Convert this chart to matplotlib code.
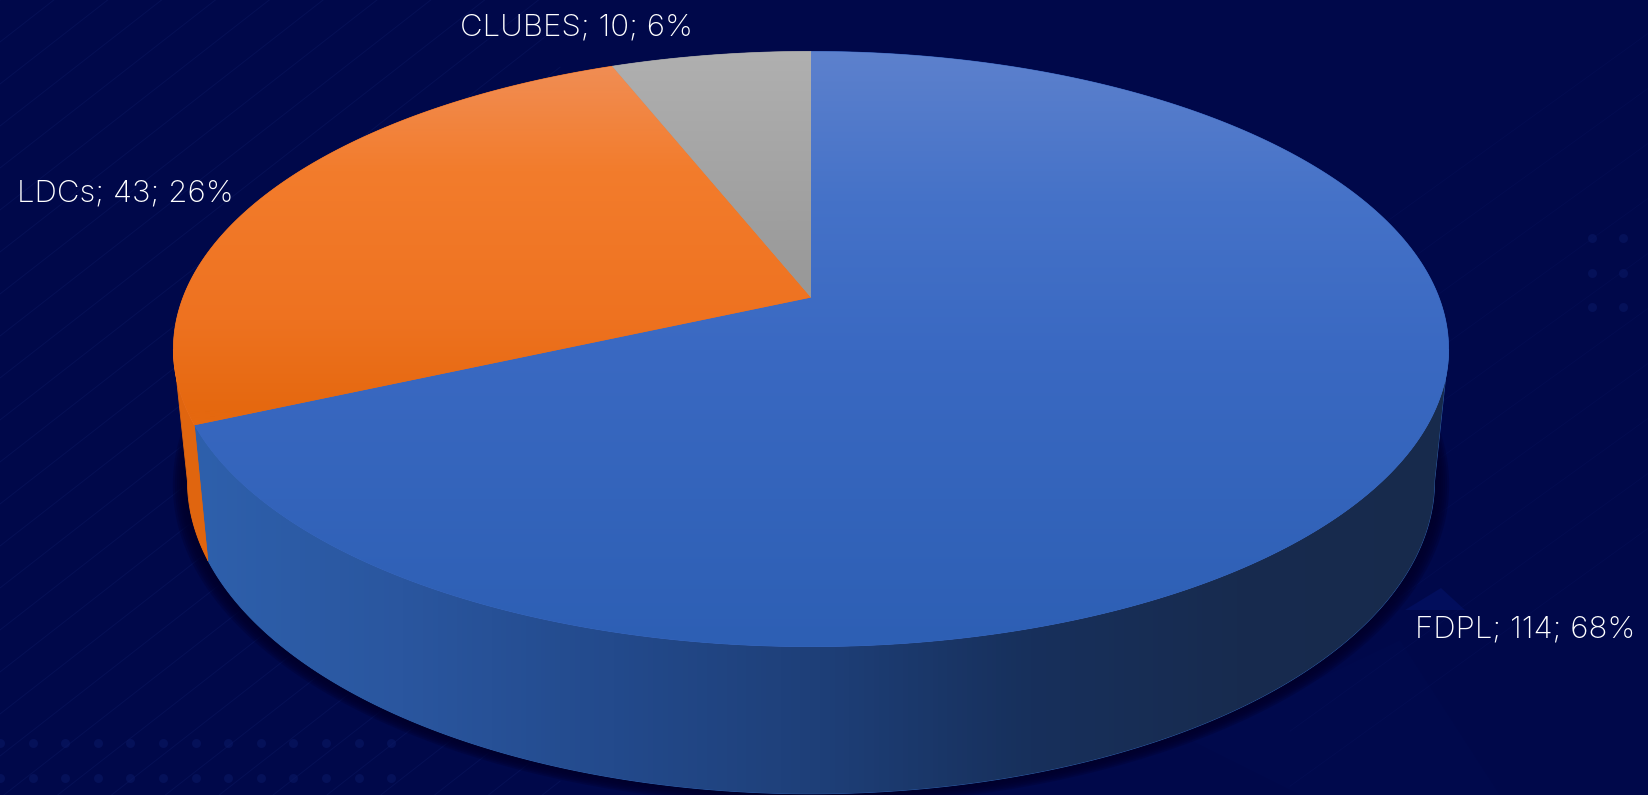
import numpy as np
import matplotlib
matplotlib.use("Agg")
import matplotlib.pyplot as plt
from matplotlib.colors import LinearSegmentedColormap
from matplotlib.patches import Polygon

# slices in the order they run clockwise from 12 o'clock
names = ["FDPL", "LDCs", "CLUBES"]
values = [114, 43, 10]

label_x = [1415, 17, 460]
label_y = [637, 201, 35]

BG = "#00084a"
W, H = 1649, 795

# perspective set up (pixels), measured on the picture
XC, YC = 811.0, 297.5
A, B, K = 628.0, 288.7, 0.173
SX, SY = 0.978, 1.052
Y_FRONT_TOP, Y_FRONT_BOT = 646.8, 794.0

# only this part of the wall faces the viewer
FRONT_T0, FRONT_T1 = np.radians(100), np.radians(260)

top_colors = {
    "FDPL": [(0, "#5d81cd"), (0.25, "#4572c8"), (0.5, "#3a69c2"), (1, "#2d5fb4")],
    "LDCs": [(0, "#f0905a"), (0.2, "#f37c2c"), (0.45, "#ee7220"), (0.6, "#e5680f"), (1, "#e5680f")],
    "CLUBES": [(0, "#b0b0b0"), (0.4, "#989898"), (1, "#989898")],
}
side_colors = {
    "FDPL": ["#2e60ac", "#2a569f", "#234a8c", "#1e3f78", "#17305c", "#172b4f", "#182a4c"],
    "LDCs": ["#e0650f", "#e0650f"],
    "CLUBES": ["#808080", "#808080"],
}
flat_colors = {"FDPL": "#3a69c2", "LDCs": "#ee7220", "CLUBES": "#a0a0a0"}


def top_rim(t):
    # t is clockwise from the top of the pie
    u, v = np.sin(t), np.cos(t)
    d = 1 + K * v
    return XC + A * u / d, YC - B * v / d


def bottom_rim(t):
    x, y = top_rim(t)
    return XC + SX * (x - XC), Y_FRONT_BOT + SY * (y - Y_FRONT_TOP)


def grad_fill(ax, verts, colors, vertical=True, zorder=3):
    cmap = LinearSegmentedColormap.from_list("g", colors)
    ramp = np.linspace(0, 1, 256)
    img = ramp[:, None] if vertical else ramp[None, :]
    im = ax.imshow(img, cmap=cmap, extent=(165, 1460, 650, 50) if vertical else (190, 1450, 800, 0),
                   aspect="auto", origin="upper", zorder=zorder, interpolation="bilinear")
    clip = Polygon(verts, closed=True, transform=ax.transData, fc="none", ec="none")
    ax.add_patch(clip)
    im.set_clip_path(clip)
    return im


fig = plt.figure(figsize=(W / 100, H / 100), dpi=100, facecolor=BG)
ax = fig.add_axes([0, 0, 1, 1])
ax.set_facecolor(BG)
ax.axis("off")

# faint background shapes
ax.add_patch(Polygon([[1190, 740], [1400, 640], [1500, 795], [1300, 795]], closed=True, fc="#00094c", ec="none", zorder=1))
ax.add_patch(Polygon([[1405, 610], [1441, 588], [1465, 610]], closed=True, fc="#020e5c", ec="none", zorder=1))

# faint diagonal lines in the background
for off in range(-500, 900, 42):
    x0 = np.array([0, 560])
    ax.plot(x0, off + 500 - 0.78 * x0, color="#0d1a63", lw=0.7, alpha=0.45, zorder=1)
for off in range(0, 500, 55):
    x0 = np.array([1290, 1649])
    ax.plot(x0, off + 1220 - 0.72 * x0, color="#0a1560", lw=0.6, alpha=0.3, zorder=1)

# dots, bottom left and right side
dx, dy = np.meshgrid(np.arange(0, 400, 32.6), [743, 778])
ax.scatter(dx, dy, s=42, color="#0b1a68", alpha=0.5, lw=0, zorder=1)
dx, dy = np.meshgrid([1592, 1623], [238, 273, 307])
ax.scatter(dx, dy, s=42, color="#0b1a68", alpha=0.5, lw=0, zorder=1)

# shadow under the pie
tt = np.linspace(0, 2 * np.pi, 500)
bx, by = bottom_rim(tt)
by_c = by.mean()
for r in range(14, 0, -2):
    sc = 1 + r / 600
    ax.add_patch(Polygon(np.c_[XC + (bx - XC) * sc, by_c + (by - by_c) * sc + r * 0.25], closed=True,
                         fc="#00002a", ec="none", alpha=0.28, zorder=2))

total = sum(values)
fracs = [v / total for v in values]
starts = np.cumsum([0] + fracs[:-1]) * 2 * np.pi
ends = np.cumsum(fracs) * 2 * np.pi

# side walls first, top faces on top of them
for name, t0, t1 in zip(names, starts, ends):
    t0, t1 = max(t0, FRONT_T0), min(t1, FRONT_T1)
    if t0 >= t1:
        continue
    t = np.linspace(t0, t1, 300)
    xa, ya = top_rim(t)
    xb, yb = bottom_rim(t)
    verts = np.r_[np.c_[xa, ya], np.c_[xb, yb][::-1]]
    ax.add_patch(Polygon(verts, closed=True, fc=side_colors[name][0], ec=side_colors[name][0], lw=0.6, zorder=2.5))
    grad_fill(ax, verts, side_colors[name], vertical=False)

for name, t0, t1 in zip(names, starts, ends):
    t = np.linspace(t0, t1, 300)
    xa, ya = top_rim(t)
    verts = np.r_[[[XC, YC]], np.c_[xa, ya]]
    ax.add_patch(Polygon(verts, closed=True, fc=flat_colors[name], ec=flat_colors[name], lw=0.5, zorder=3.5))
    grad_fill(ax, verts, top_colors[name], vertical=True, zorder=4)

for name, val, frac, lx, ly in zip(names, values, fracs, label_x, label_y):
    ax.text(lx, ly, f"{name}; {val}; {frac * 100:.0f}%", color="white", fontsize=22.5,
            family="Inter", fontweight="light", ha="left", va="baseline", zorder=6)

ax.set_xlim(0, W)
ax.set_ylim(H, 0)
fig.savefig("out.png", dpi=100, facecolor=BG)
